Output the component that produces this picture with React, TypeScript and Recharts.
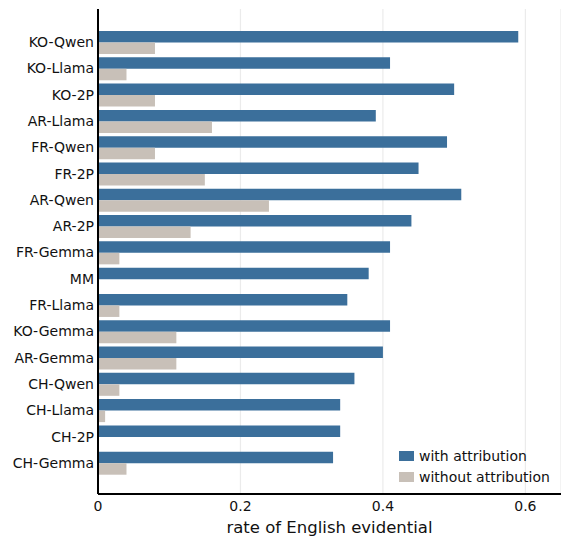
import React from "react";
import {
  BarChart,
  Bar,
  XAxis,
  YAxis,
  CartesianGrid,
  Legend,
} from "recharts";

const models = [
  "KO-Qwen",
  "KO-Llama",
  "KO-2P",
  "AR-Llama",
  "FR-Qwen",
  "FR-2P",
  "AR-Qwen",
  "AR-2P",
  "FR-Gemma",
  "MM",
  "FR-Llama",
  "KO-Gemma",
  "AR-Gemma",
  "CH-Qwen",
  "CH-Llama",
  "CH-2P",
  "CH-Gemma",
];
const withAttribution = [
  0.59, 0.41, 0.5, 0.39, 0.49, 0.45, 0.51, 0.44, 0.41, 0.38, 0.35, 0.41, 0.4, 0.36, 0.34, 0.34, 0.33,
];
const withoutAttribution = [
  0.08, 0.04, 0.08, 0.16, 0.08, 0.15, 0.24, 0.13, 0.03, 0, 0.03, 0.11, 0.11, 0.03, 0.01, 0, 0.04,
];
const xTicks = [0, 0.2, 0.4, 0.6];

const BLUE = "#3b6f9b";
const GRAY = "#c8c0b8";
const FONT = "'DejaVu Sans', sans-serif";

const data = models.map((m, i) => ({
  model: m,
  with: withAttribution[i],
  without: withoutAttribution[i],
}));

function LegendBox({ payload }: any) {
  return (
    <div style={{ fontFamily: FONT, fontSize: 14, color: "#111" }}>
      {(payload || []).map((p: any) => (
        <div
          key={p.value}
          style={{ display: "flex", alignItems: "center", height: 21 }}
        >
          <span
            style={{
              display: "inline-block",
              width: 15,
              height: 10,
              background: p.color,
              marginRight: 5,
            }}
          />
          <span>{p.value}</span>
        </div>
      ))}
    </div>
  );
}

export default function App() {
  return (
    <div style={{ position: "absolute", left: 0, top: 0, background: "#fff" }}>
      <BarChart
        width={561}
        height={537}
        data={data}
        layout="vertical"
        margin={{ top: 9, right: 0, bottom: 0, left: 0 }}
        barGap={0}
        barSize={11.5}
      >
        <CartesianGrid horizontal={false} stroke="#ebebeb" strokeWidth={1.2} />
        <XAxis
          type="number"
          domain={[0, 0.65]}
          ticks={xTicks}
          allowDataOverflow
          height={43}
          tickLine={false}
          tickSize={6}
          tickMargin={1}
          axisLine={{ stroke: "#000", strokeWidth: 2 }}
          tick={{ fill: "#111", fontSize: 14, fontFamily: FONT }}
          tickFormatter={(v: number) => String(v)}
          label={{
            value: "rate of English evidential",
            position: "insideBottom",
            offset: 4,
            fill: "#111",
            fontSize: 16.5,
            fontFamily: FONT,
          }}
        />
        <YAxis
          type="category"
          dataKey="model"
          width={98}
          padding={{ top: 20, bottom: 18 }}
          tickLine={false}
          tickSize={4}
          tickMargin={0}
          interval={0}
          axisLine={{ stroke: "#000", strokeWidth: 2 }}
          tick={{ fill: "#111", fontSize: 14, fontFamily: FONT }}
        />
        <Legend
          layout="vertical"
          align="center"
          verticalAlign="middle"
          content={<LegendBox />}
          wrapperStyle={{ left: 399, top: 445, width: 160, height: 44 }}
        />
        <Bar
          dataKey="with"
          name="with attribution"
          fill={BLUE}
          isAnimationActive={false}
        />
        <Bar
          dataKey="without"
          name="without attribution"
          fill={GRAY}
          isAnimationActive={false}
        />
      </BarChart>
    </div>
  );
}
